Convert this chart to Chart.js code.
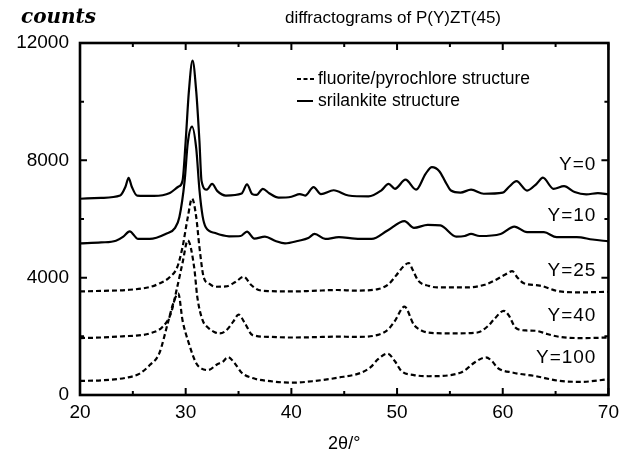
<!DOCTYPE html>
<html>
<head>
<meta charset="utf-8">
<script src="https://cdn.jsdelivr.net/npm/chart.js@4"></script>
<style>
  html, body { margin: 0; padding: 0; background: #fff; }
</style>
</head>
<body>
<canvas id="xrdChart" width="625" height="455"></canvas>
<script>
// 2theta (deg) and counts, one pair of arrays per sample
const theta0 = [20, 22, 23.8, 24.3, 24.6, 24.9, 25.4, 27, 28.5, 29.3, 29.7, 30.0, 30.3, 30.65, 31.0, 31.3, 31.5, 32.0, 32.5, 33.0, 33.8, 35.3, 35.8, 36.3, 36.7, 37.3, 37.9, 38.8, 40, 40.8, 41.3, 42.1, 42.8, 44.0, 45.4, 47.3, 48.5, 49.2, 49.8, 50.8, 51.8, 52.7, 53.3, 54.0, 54.6, 55.1, 56.0, 57.0, 58.2, 60.0, 60.6, 61.3, 62.3, 63.2, 63.8, 64.8, 65.8, 66.8, 67.9, 69, 70];
const counts0 = [6690, 6720, 6800, 7100, 7400, 7100, 6800, 6790, 6890, 7100, 7300, 8660, 10340, 11400, 10340, 8660, 7300, 7000, 7200, 6950, 6800, 6870, 7180, 6850, 6820, 7030, 6880, 6730, 6760, 6850, 6800, 7090, 6850, 6980, 6800, 6770, 6970, 7200, 7030, 7340, 7000, 7540, 7770, 7630, 7250, 6970, 6900, 7000, 6860, 6900, 7100, 7290, 6970, 7200, 7410, 7030, 7120, 6920, 6840, 6880, 6840];

const theta10 = [20, 22, 23.4, 24.1, 24.7, 25.5, 26.6, 28.1, 29.0, 29.4, 29.9, 30.2, 30.6, 31.0, 31.3, 31.6, 31.9, 32.8, 34.1, 35.2, 35.8, 36.5, 37.5, 38.5, 39.4, 40.7, 41.6, 42.2, 43.2, 44.5, 46, 47.6, 49.1, 50.7, 51.6, 52.9, 54.1, 55.6, 56.4, 57.0, 57.8, 59.8, 61.1, 62.3, 63.9, 65.1, 67.0, 68.5, 70];
const counts10 = [5170, 5200, 5260, 5400, 5580, 5320, 5320, 5490, 5700, 6060, 7300, 8600, 9150, 8400, 7000, 6100, 5720, 5520, 5410, 5420, 5570, 5330, 5400, 5250, 5170, 5260, 5350, 5490, 5320, 5380, 5330, 5320, 5610, 5930, 5700, 5800, 5780, 5400, 5420, 5490, 5420, 5490, 5740, 5550, 5550, 5380, 5380, 5300, 5240];

const theta25 = [20, 22, 24.4, 26.6, 27.5, 28.5, 29.2, 29.7, 30.2, 30.6, 31.0, 31.3, 31.7, 32.2, 32.8, 33.8, 34.7, 35.5, 36.2, 36.9, 38, 40, 42, 44.4, 46, 48.2, 49.2, 49.9, 50.6, 51.1, 51.5, 52.0, 53.0, 53.8, 56.7, 58.3, 59.2, 60.2, 60.9, 61.4, 62.0, 63.5, 65.4, 67.5, 70];
const counts25 = [3530, 3550, 3580, 3680, 3800, 4020, 4360, 5040, 6060, 6700, 6060, 5040, 4020, 3800, 3690, 3700, 3850, 4030, 3750, 3580, 3540, 3530, 3550, 3580, 3560, 3610, 3780, 4070, 4380, 4500, 4250, 3900, 3720, 3670, 3670, 3760, 3900, 4100, 4220, 4000, 3810, 3730, 3530, 3500, 3520];

const theta40 = [20, 22, 24, 26.0, 26.6, 27.8, 28.6, 29.2, 29.7, 30.2, 30.8, 31.1, 31.6, 32.1, 32.7, 33.2, 33.8, 34.5, 35.0, 35.6, 36.3, 38, 40, 42, 44.4, 46, 48.2, 49.2, 49.8, 50.7, 51.6, 52.3, 52.9, 55, 57.6, 58.6, 59.2, 60.1, 60.6, 61.2, 62.2, 63.1, 64.2, 65.4, 67.5, 70];
const counts40 = [1940, 1960, 2000, 2050, 2100, 2320, 2780, 3680, 4500, 5270, 4360, 3340, 2550, 2300, 2150, 2100, 2190, 2500, 2740, 2450, 2050, 1980, 1960, 1970, 1990, 1980, 2050, 2250, 2530, 3010, 2390, 2200, 2130, 2100, 2130, 2350, 2590, 2870, 2700, 2300, 2200, 2190, 2080, 1980, 1940, 1960];

const theta100 = [20, 22, 24.4, 25.6, 26.6, 27.5, 28.3, 28.8, 29.3, 29.7, 30.3, 31.0, 31.5, 32.1, 33.0, 33.5, 34.0, 34.6, 35.3, 36.5, 38, 40, 42, 44.4, 46.6, 47.5, 48.2, 49.1, 49.8, 50.4, 51.6, 53, 56.0, 56.8, 57.3, 58.4, 59.0, 59.5, 61.0, 63, 65.4, 67.5, 70];
const counts100 = [480, 500, 590, 720, 1020, 1420, 2440, 3100, 3460, 2550, 1760, 1080, 900, 850, 1050, 1130, 1290, 1100, 760, 560, 470, 420, 470, 590, 760, 950, 1220, 1410, 1150, 820, 680, 640, 760, 950, 1100, 1280, 1150, 930, 760, 650, 480, 450, 540];

const sampleNames = ['Y=0', 'Y=10', 'Y=25', 'Y=40', 'Y=100'];
const srilankite = [true, true, false, false, false]; // solid = srilankite, dashed = fluorite/pyrochlore

const thetas = [theta0, theta10, theta25, theta40, theta100];
const counts = [counts0, counts10, counts25, counts40, counts100];

const datasets = sampleNames.map((name, i) => ({
  label: name,
  data: thetas[i].map((t, j) => ({ x: t, y: counts[i][j] })),
  borderColor: '#000',
  borderWidth: 2.2,
  borderDash: srilankite[i] ? [] : [5, 3],
  pointRadius: 0,
  cubicInterpolationMode: 'monotone',
  fill: false
}));

const sansFont = '"Liberation Sans", Arial, sans-serif';

// frame with inward ticks, plus the text bits (axis unit, title, legend, curve names)
const decorations = {
  id: 'decorations',
  afterDatasetsDraw(chart) {
    const { ctx, chartArea: a, scales: { x, y } } = chart;
    ctx.save();
    ctx.strokeStyle = '#000';
    ctx.lineWidth = 2;
    ctx.setLineDash([]);
    x.ticks.forEach(t => {
      const px = x.getPixelForValue(t.value);
      const len = t.value % 10 === 0 ? 7 : 4;
      ctx.beginPath();
      ctx.moveTo(px, a.bottom); ctx.lineTo(px, a.bottom - len);
      ctx.moveTo(px, a.top); ctx.lineTo(px, a.top + len);
      ctx.stroke();
    });
    y.ticks.forEach(t => {
      const py = y.getPixelForValue(t.value);
      const len = t.value % 4000 === 0 ? 7 : 4;
      ctx.beginPath();
      ctx.moveTo(a.left, py); ctx.lineTo(a.left + len, py);
      ctx.moveTo(a.right, py); ctx.lineTo(a.right - len, py);
      ctx.stroke();
    });
    ctx.lineWidth = 2.6;
    ctx.strokeRect(a.left, a.top, a.right - a.left, a.bottom - a.top);

    ctx.fillStyle = '#000';
    ctx.textBaseline = 'middle';

    ctx.font = 'bold italic 20px "DejaVu Serif", serif';
    ctx.textAlign = 'left';
    ctx.fillText('counts', 21, 18);

    ctx.font = '17px ' + sansFont;
    ctx.textAlign = 'center';
    ctx.fillText('diffractograms of P(Y)ZT(45)', 393, 18);

    // legend
    const lx = a.left + 217, ly1 = a.top + 36, ly2 = a.top + 58;
    ctx.lineWidth = 2;
    ctx.setLineDash([4, 2.5]);
    ctx.beginPath(); ctx.moveTo(lx, ly1); ctx.lineTo(lx + 17, ly1); ctx.stroke();
    ctx.setLineDash([]);
    ctx.beginPath(); ctx.moveTo(lx, ly2); ctx.lineTo(lx + 16, ly2); ctx.stroke();
    ctx.textAlign = 'left';
    ctx.font = '17.5px ' + sansFont;
    ctx.fillText('fluorite/pyrochlore structure', lx + 21, ly1);
    ctx.fillText('srilankite structure', lx + 21, ly2);

    // curve names above the right end of each trace
    ctx.font = '19px ' + sansFont;
    ctx.textAlign = 'right';
    if ('letterSpacing' in ctx) ctx.letterSpacing = '1px';
    sampleNames.forEach((name, i) => {
      const tail = counts[i].filter((c, j) => thetas[i][j] >= 65);
      const py = y.getPixelForValue(Math.max(...tail)) - 21;
      ctx.fillText(name, a.right - 12, py);
    });
    ctx.restore();
  }
};

new Chart(document.getElementById('xrdChart'), {
  type: 'line',
  data: { datasets },
  plugins: [decorations],
  options: {
    responsive: false,
    animation: false,
    layout: { padding: { top: 43, right: 13, left: 0, bottom: 0 } },
    plugins: {
      legend: { display: false },
      tooltip: { enabled: false }
    },
    scales: {
      x: {
        type: 'linear',
        min: 20,
        max: 70,
        grid: { display: false, drawTicks: false },
        border: { display: false },
        ticks: {
          stepSize: 5,
          autoSkip: false,
          maxRotation: 0,
          padding: 6,
          color: '#000',
          font: { family: sansFont, size: 19 },
          callback: v => (v % 10 === 0 ? v : '')
        },
        title: {
          display: true,
          text: '2θ/°',
          color: '#000',
          font: { family: sansFont, size: 18 },
          padding: { top: 8, bottom: 0 }
        },
        afterFit: s => { s.height = 60; }
      },
      y: {
        min: 0,
        max: 12000,
        grid: { display: false, drawTicks: false },
        border: { display: false },
        ticks: {
          stepSize: 2000,
          autoSkip: false,
          padding: 11,
          color: '#000',
          font: { family: sansFont, size: 19 },
          callback: v => (v % 4000 === 0 ? v : '')
        },
        afterFit: s => { s.width = 80; }
      }
    }
  }
});
</script>
</body>
</html>
